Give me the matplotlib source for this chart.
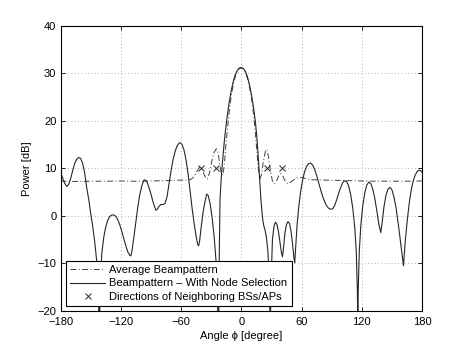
import matplotlib
matplotlib.use("Agg")
from matplotlib import pyplot as plt

# Beampattern with node selection (solid)
solid_deg = [-180, -178, -176, -174, -172, -170, -168, -166, -164, -162, -160, -158, -156, -154, -152,
             -150, -148, -146, -144, -142.5, -141.5, -140.5, -139, -137, -135, -133, -131, -129, -127,
             -125, -123, -121, -119, -117, -115, -113, -111, -110, -109, -107, -105, -103, -101, -99,
             -97, -96, -94, -92, -90, -88, -86, -85, -84, -82, -80, -78, -76, -74, -72, -70, -68, -66,
             -64, -62, -61, -59, -57, -55, -53, -51, -49, -47, -45, -43.5, -42.5, -41.5, -40, -38, -36,
             -34.5, -33, -31, -29, -27, -25, -23.5, -22.7, -22, -21.2, -20, -19, -18, -17, -16, -14,
             -12, -10, -8, -6, -4, -2, 0, 2, 4, 6, 8, 10, 12, 14, 15.5, 17, 18.5, 19.5, 20.5, 21.5,
             22.5, 23.5, 25, 26.5, 28, 28.8, 29.6, 31, 32.5, 34, 35.5, 37, 38.5, 40, 41, 42, 43.5, 45,
             46.5, 48, 49.5, 51, 52.5, 53.2, 54, 55.5, 57, 59, 61, 63, 65, 67, 69, 71, 73, 75, 77, 79,
             81, 83, 85, 87, 89, 91, 93, 95, 97, 99, 101, 103, 105, 107, 109, 111, 113, 114.5, 115.5,
             116, 116.5, 117.5, 119, 121, 123, 125, 127, 129, 131, 133, 135, 137, 138.9, 140.5, 142,
             144, 146, 148, 150, 152, 154, 156, 158, 160, 161.5, 163, 165, 167, 169, 171, 173, 175,
             177, 178.5, 180]
solid_db = [9.1, 8.0, 6.9, 6.2, 6.6, 7.8, 9.5, 11.0, 11.9, 12.3, 12.1, 11.0, 9.0, 6.0, 3.5,
            0.5, -2.2, -5.5, -9.5, -16, -24, -16, -8, -4.5, -2.3, -0.9, -0.1, 0.2, 0.2,
            -0.1, -0.8, -1.9, -3.3, -4.8, -6.3, -7.6, -8.3, -8.4, -7.5, -4.5, -1.2, 2.0, 4.6, 6.4,
            7.5, 7.6, 7.2, 6.0, 4.6, 3.0, 1.7, 1.2, 1.3, 2.0, 2.4, 2.4, 2.6, 4.0, 6.8, 9.5, 11.8, 13.5,
            14.7, 15.3, 15.4, 15.0, 13.8, 11.7, 8.8, 5.2, 1.6, -1.6, -4.3, -6.0, -6.3, -5.2, -2.4, 0.9, 3.2,
            4.6, 4.3, 2.5, -0.5, -4.5, -10, -20, -30, -9, 3.5, 8.0, 10.8, 13.2, 15.5, 17.6, 21.0,
            24.0, 26.4, 28.3, 29.7, 30.6, 31.1, 31.2, 31.0, 30.4, 29.3, 27.7, 25.6, 23.0, 19.8, 16.5, 12, 7, 3.5, 1.0, -1.0,
            -2.2, -2.8, -4.5, -7.5, -14, -25, -14, -5, -2.2, -1.3, -1.8, -3.3, -5.5, -7.8, -8.6, -6.8, -3.5, -1.8,
            -1.2, -1.6, -3.2, -5.8, -9.0, -9.8, -7.0, -2.0, 1.5, 5.0, 7.5, 9.3, 10.4, 11.0, 11.1, 10.7, 9.8, 8.5, 7.0, 5.5,
            4.1, 3.0, 2.1, 1.6, 1.4, 1.5, 2.2, 3.4, 4.8, 6.0, 7.0, 7.4, 7.2, 6.2, 4.4, 1.6, -2.5, -7.5, -15,
            -22, -15, -7.5, -2.0, 2.2, 4.9, 6.5, 7.1, 6.8, 5.6, 3.6, 1.0, -1.8, -3.5, -1.0, 1.8,
            4.3, 5.6, 6.0, 5.5, 4.0, 1.8, -1.2, -4.5, -8.0, -10.5, -6.0, -1.5, 2.3, 5.2, 7.2, 8.5, 9.3,
            9.6, 9.5, 9.2]

# average beampattern (dash-dot)
avg_deg = [-180, -170, -160, -150, -140, -130, -120, -110, -100, -90, -80, -70, -64, -58, -54, -50,
           -47, -44, -41.5, -39, -37, -35, -33.5, -31.5, -29.5, -27.5, -25, -23, -21.5, -20, -18.5,
           -17, -15.5, -14, -12, -10, -8, -6, -4, -2, 0, 2, 4, 6, 8, 10, 12, 14, 15.5, 17, 18.5, 20,
           22, 24, 25.5, 27, 29, 31, 33, 35, 37, 39, 41, 43, 45.5, 48, 51, 55, 60, 65, 70, 80, 90,
           100, 110, 120, 130, 140, 150, 160, 170, 180]
avg_db = [7.3, 7.25, 7.25, 7.3, 7.3, 7.3, 7.35, 7.3, 7.3, 7.35, 7.4, 7.45, 7.5, 7.55, 7.5, 7.7,
          8.3, 9.5, 10.2, 9.8, 8.7, 7.8, 7.8, 9.2, 11.4, 13.2, 14.1, 13.2, 10.8, 8.8, 8.6,
          10.5, 14.5, 18, 22, 25.3, 27.6, 29.3, 30.4, 31.0, 31.1, 30.9, 30.2, 29.0, 27.3, 25, 21.7, 17.5, 13.5, 9.8, 7.8, 8.6,
          11.5, 13.6, 14.0, 12.5, 9.5, 7.3, 6.8, 7.3, 8.3, 8.9, 8.6, 7.6, 6.9, 6.9, 7.4, 8.0, 8.1, 7.8, 7.6, 7.55, 7.5,
          7.45, 7.4, 7.35, 7.3, 7.3, 7.3, 7.3, 7.3, 7.35]

# directions of neighboring BSs/APs
nb_deg = [-40.3, -25.4, 25.4, 40.3]
nb_db = [10, 10, 10, 10]

plt.rcParams['font.family'] = ['Liberation Sans', 'DejaVu Sans']
plt.rcParams['font.size'] = 8

fig = plt.figure(figsize=(4.66, 3.5), dpi=100)
ax = fig.add_axes([0.13, 0.1114, 0.7757, 0.8152])

ax.plot(avg_deg, avg_db, color='0.25', linestyle=(0, (6, 2.5, 1, 2.5)), linewidth=0.7,
        label='Average Beampattern')
ax.plot(solid_deg, solid_db, color='0.15', linewidth=0.8,
        label='Beampattern – With Node Selection')
ax.plot(nb_deg, nb_db, linestyle='none', marker='x', color='0.15', markersize=4,
        markeredgewidth=0.7, label='Directions of Neighboring BSs/APs')

ax.set_xlim(-180, 180)
ax.set_ylim(-20, 40)
ax.set_xticks([-180, -120, -60, 0, 60, 120, 180])
ax.set_yticks([-20, -10, 0, 10, 20, 30, 40])
ax.grid(True, linestyle=(0, (1, 3)), color='0.6', linewidth=0.6)
ax.tick_params(direction='in', length=3, width=0.6, top=True, right=True)
ax.tick_params(axis='x', pad=4)
ax.tick_params(axis='y', pad=3)
for s in ax.spines.values():
    s.set_linewidth(0.8)

ax.set_xlabel('Angle ϕ [degree]', labelpad=3)
ax.set_ylabel('Power [dB]', labelpad=4)

leg = ax.legend(loc='lower left', fontsize=8, handlelength=3.15, handletextpad=0.4,
                labelspacing=0.28, borderpad=0.4, borderaxespad=0.45, fancybox=False,
                framealpha=1, edgecolor='black')
leg.get_frame().set_linewidth(0.8)

fig.savefig('out.png', dpi=100)
